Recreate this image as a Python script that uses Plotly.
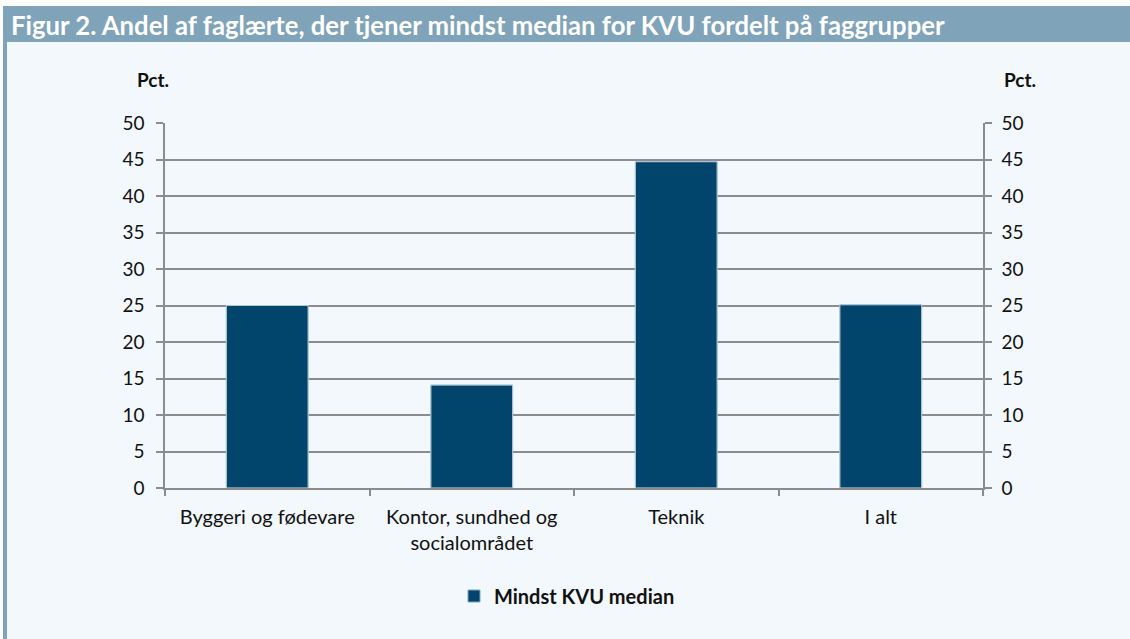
import plotly.graph_objects as go

categories = ["Byggeri og fødevare", "Kontor, sundhed og<br>socialområdet", "Teknik", "I alt"]
values = [25.0, 14.1, 44.7, 25.1]
series_name = "Mindst KVU median"
title_text = "Figur 2. Andel af faglærte, der tjener mindst median for KVU fordelt på faggrupper"
tick_vals = [0, 5, 10, 15, 20, 25, 30, 35, 40, 45, 50]

BAR = "#02456C"
GRID = "#8C8C8C"
HEAD = "#7FA3B9"
BG = "#F3F8FC"
FONT = "Lato"

W, H = 1130, 639
pl, pr, pt, pb = 165, 147, 123, 151
pw, ph = W - pl - pr, H - pt - pb


def px_x(x):
    return (x - pl) / pw


def px_y(y):
    return (H - pb - y) / ph


fig = go.Figure()
fig.add_trace(go.Bar(
    x=categories, y=values, name=series_name,
    marker=dict(color=BAR, line=dict(color="#7FA3C0", width=1)),
    yaxis="y",
))
fig.add_trace(go.Bar(
    x=categories, y=values, name=series_name, showlegend=False,
    marker=dict(color="rgba(0,0,0,0)"), yaxis="y2", hoverinfo="skip",
))

axis_common = dict(
    range=[0, 50], tickvals=tick_vals, ticks="outside", ticklen=7, tickwidth=1.5,
    tickcolor=GRID, showline=True, linecolor=GRID, linewidth=1.5,
    tickfont=dict(family=FONT, size=19, color="#111"), fixedrange=True,
)

fig.update_layout(
    width=W, height=H,
    paper_bgcolor=BG, plot_bgcolor=BG,
    margin=dict(l=pl, r=pr, t=pt, b=pb),
    barmode="overlay", bargap=0.6,
    font=dict(family=FONT, size=19, color="#111"),
    xaxis=dict(
        showline=True, linecolor=GRID, linewidth=1.5, ticks="outside",
        tickson="boundaries", ticklen=6, tickwidth=1.5, tickcolor=GRID,
        tickfont=dict(family=FONT, size=20, color="#111"), showgrid=False,
        ticklabelstandoff=10, fixedrange=True,
    ),
    yaxis=dict(**axis_common, showgrid=True, gridcolor=GRID, gridwidth=1.5,
               zeroline=False, side="left", ticklabelstandoff=8),
    yaxis2=dict(**axis_common, overlaying="y", side="right", showgrid=False,
                zeroline=False, ticklabelstandoff=6),
    legend=dict(orientation="h", x=px_x(454), xanchor="left", y=px_y(596), yanchor="middle",
                font=dict(family=FONT, size=20, color="#111", weight="bold"),
                bgcolor="rgba(0,0,0,0)", itemwidth=30),
    showlegend=True,
)

fig.add_shape(type="rect", xref="paper", yref="paper",
              x0=px_x(0), x1=px_x(W), y0=px_y(0), y1=px_y(6),
              fillcolor="white", line=dict(width=0), layer="below")
fig.add_shape(type="rect", xref="paper", yref="paper",
              x0=px_x(3), x1=px_x(W), y0=px_y(6), y1=px_y(42),
              fillcolor=HEAD, line=dict(width=0), layer="below")
fig.add_shape(type="rect", xref="paper", yref="paper",
              x0=px_x(3), x1=px_x(7), y0=px_y(42), y1=px_y(H),
              fillcolor=HEAD, line=dict(width=0), layer="below")
fig.add_shape(type="rect", xref="paper", yref="paper",
              x0=px_x(0), x1=px_x(3), y0=px_y(6), y1=px_y(H),
              fillcolor="white", line=dict(width=0), layer="below")

fig.add_annotation(xref="paper", yref="paper", x=px_x(9), y=px_y(25),
                   xanchor="left", yanchor="middle", showarrow=False,
                   text="<b>" + title_text + "</b>",
                   font=dict(family=FONT, size=25.7, color="white"))
fig.add_annotation(xref="paper", yref="paper", x=px_x(153), y=px_y(80),
                   xanchor="center", yanchor="middle", showarrow=False,
                   text="<b>Pct.</b>", font=dict(family=FONT, size=19, color="#111"))
fig.add_annotation(xref="paper", yref="paper", x=px_x(1020), y=px_y(80),
                   xanchor="center", yanchor="middle", showarrow=False,
                   text="<b>Pct.</b>", font=dict(family=FONT, size=19, color="#111"))

fig.write_html("out.html", config={"displayModeBar": False},
               post_script="document.body.style.margin='0';")
